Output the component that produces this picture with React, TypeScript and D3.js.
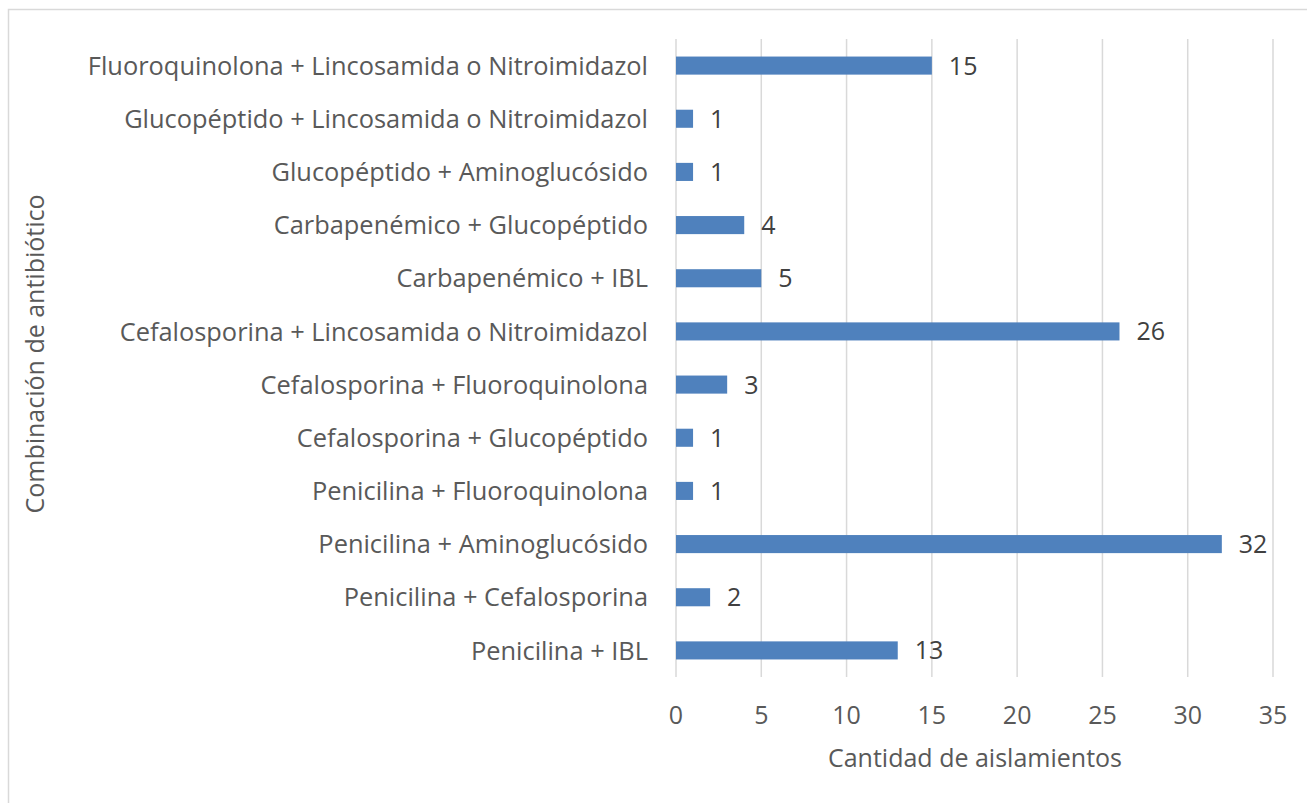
import React from "react";
import * as d3 from "d3";

const categories = [
  "Fluoroquinolona + Lincosamida o Nitroimidazol",
  "Glucopéptido + Lincosamida o Nitroimidazol",
  "Glucopéptido + Aminoglucósido",
  "Carbapenémico + Glucopéptido",
  "Carbapenémico + IBL",
  "Cefalosporina + Lincosamida o Nitroimidazol",
  "Cefalosporina + Fluoroquinolona",
  "Cefalosporina + Glucopéptido",
  "Penicilina + Fluoroquinolona",
  "Penicilina + Aminoglucósido",
  "Penicilina + Cefalosporina",
  "Penicilina + IBL",
];
const values = [15, 1, 1, 4, 5, 26, 3, 1, 1, 32, 2, 13];
const xTicks = [0, 5, 10, 15, 20, 25, 30, 35];
const xTitle = "Cantidad de aislamientos";
const yTitle = "Combinación de antibiótico";

const W = 1307;
const H = 803;
const FONT = "'Open Sans', sans-serif";
const FS = 25;

export default function App() {
  const x = d3.scaleLinear().domain([0, 35]).range([676, 1273]);
  const y = d3.scaleBand<string>().domain(categories).range([39, 677]).paddingInner(0.66).paddingOuter(0.33);
  const band = d3.scaleBand<string>().domain(categories).range([39, 677]);

  return (
    <svg width={W} height={H} style={{ position: "absolute", left: 0, top: 0 }}>
      <rect x={0} y={0} width={W} height={H} fill="#fff" />
      <rect x={8.5} y={9.5} width={W + 10} height={H + 10} fill="#fff" stroke="#d9d9d9" strokeWidth={1.5} />
      {xTicks.map((t) => (
        <line key={t} x1={x(t)} x2={x(t)} y1={39} y2={677} stroke="#d9d9d9" strokeWidth={1.5} />
      ))}
      {categories.map((c, i) => (
        <rect key={c} x={x(0)} y={y(c)!} width={x(values[i]) - x(0)} height={y.bandwidth()} fill="#4f81bd" />
      ))}
      {categories.map((c, i) => (
        <text
          key={"v" + c}
          x={x(values[i]) + 17}
          y={band(c)! + band.bandwidth() / 2}
          dy="0.36em"
          fontFamily={FONT}
          fontSize={FS}
          fill="#404040"
        >
          {values[i]}
        </text>
      ))}
      {categories.map((c) => (
        <text
          key={"l" + c}
          x={648}
          y={band(c)! + band.bandwidth() / 2}
          dy="0.36em"
          textAnchor="end"
          fontFamily={FONT}
          fontSize={25.4}
          fill="#595959"
        >
          {c}
        </text>
      ))}
      {xTicks.map((t) => (
        <text key={"t" + t} x={x(t)} y={724} textAnchor="middle" fontFamily={FONT} fontSize={FS} fill="#595959">
          {t}
        </text>
      ))}
      <text x={975} y={767} textAnchor="middle" fontFamily={FONT} fontSize={FS} fill="#595959">
        {xTitle}
      </text>
      <text
        transform={`translate(44,354) rotate(-90)`}
        textAnchor="middle"
        fontFamily={FONT}
        fontSize={FS}
        fill="#595959"
      >
        {yTitle}
      </text>
    </svg>
  );
}
